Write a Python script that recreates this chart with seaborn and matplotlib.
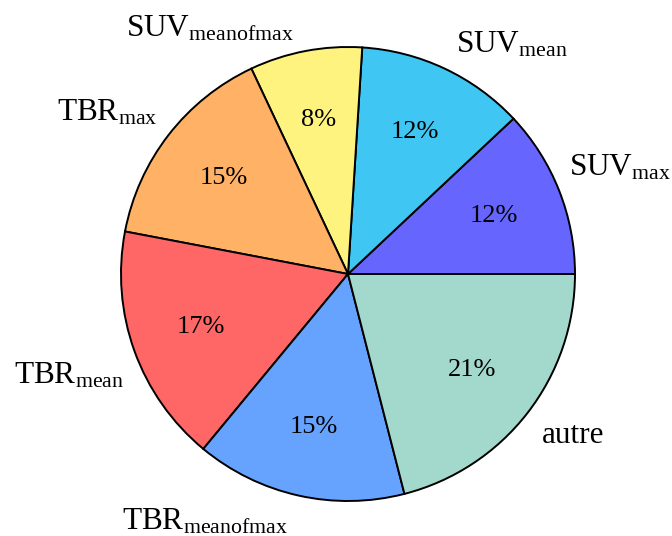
import numpy as np
import matplotlib
matplotlib.use("Agg")
import matplotlib.pyplot as plt
import seaborn as sns

# slice data, counter-clockwise from 3 o'clock
labels = [r"SUV$_{\mathrm{max}}$", r"SUV$_{\mathrm{mean}}$", r"SUV$_{\mathrm{meanofmax}}$",
          r"TBR$_{\mathrm{max}}$", r"TBR$_{\mathrm{mean}}$", r"TBR$_{\mathrm{meanofmax}}$", "autre"]
shares = [12, 12, 8, 15, 17, 15, 21]
colors = ["#6666FF", "#40C6F2", "#FFF380", "#FFB266", "#FF6666", "#66A3FF", "#A3D9CC"]

# where each outer label sits (data units, pie radius = 1)
label_xy = [(1.20, 0.47), (0.72, 1.01), (-0.61, 1.08), (-1.06, 0.71),
            (-1.23, -0.45), (-0.63, -1.09), (0.99, -0.71)]

sns.set_theme(style="white")
plt.rcParams["font.family"] = ["Liberation Serif", "DejaVu Serif"]
plt.rcParams["mathtext.fontset"] = "custom"
plt.rcParams["mathtext.rm"] = "Liberation Serif"
plt.rcParams["mathtext.it"] = "Liberation Serif:italic"

fig = plt.figure(figsize=(6.72, 5.36), dpi=100)
ax = fig.add_axes([0, 0, 1, 1])

wedges, texts, autotexts = ax.pie(
    shares, labels=labels, colors=colors, startangle=0, counterclock=True,
    autopct=lambda p: f"{p:.0f}%", pctdistance=0.69, labeldistance=1.25,
    wedgeprops=dict(edgecolor="black", linewidth=1.4),
    textprops=dict(fontsize=22.5, color="black"),
)
for t in autotexts:
    t.set_fontsize(19)
for t, xy in zip(texts, label_xy):
    t.set_position(xy)
    t.set_ha("center")
    t.set_va("center")

r = 227.0
ax.set_xlim(-348 / r, (672 - 348) / r)
ax.set_ylim(-(536 - 274) / r, 274 / r)
ax.set_aspect("equal")
ax.axis("off")

fig.savefig("out.png", dpi=100)
